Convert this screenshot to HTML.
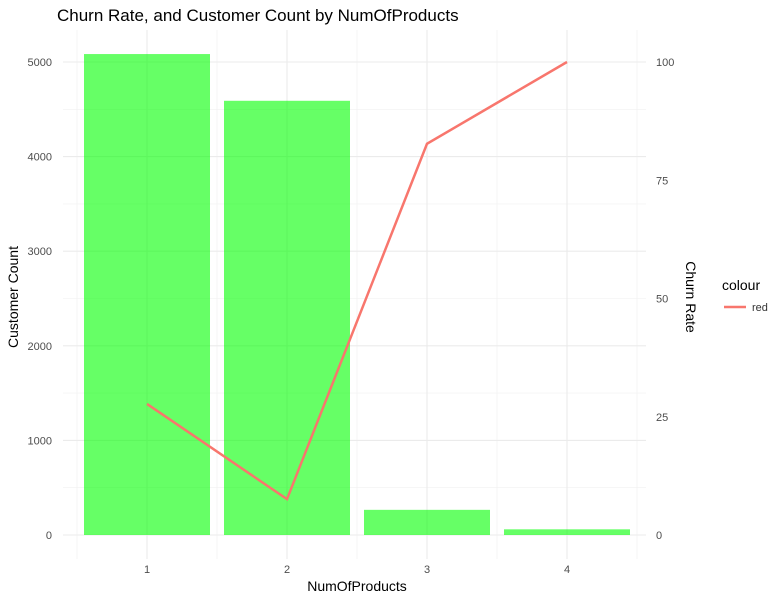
<!DOCTYPE html>
<html><head><meta charset="utf-8"><style>
body{margin:0;background:#fff;font-family:"Liberation Sans",Arial,sans-serif}
</style></head><body>
<svg id="c" width="784" height="601" xmlns="http://www.w3.org/2000/svg">
<rect width="784" height="601" fill="#fff"/>
<text x="57" y="21" font-size="17" fill="#000">Churn Rate, and Customer Count by NumOfProducts</text>
<g id="grid"></g><g id="bars"></g><g id="line"></g><g id="axes"></g>
<text transform="translate(18,297) rotate(-90)" text-anchor="middle" font-size="14">Customer Count</text>
<text transform="translate(686,297) rotate(90)" text-anchor="middle" font-size="14">Churn Rate</text>
<text x="357" y="591" text-anchor="middle" font-size="14">NumOfProducts</text>
<g>
<text x="722" y="290" font-size="14">colour</text>
<line x1="724" y1="307" x2="746" y2="307" stroke="#F8766D" stroke-width="2.5"/>
<text x="752" y="311" font-size="11" fill="#333">red</text>
</g>
</svg>
<script>
const categories=["1","2","3","4"];
const customerCounts=[5084,4590,266,60];
const churnRates=[27.71,7.58,82.71,100];
const leftTicks=[0,1000,2000,3000,4000,5000];
const rightTicks=[0,25,50,75,100];
const NS="http://www.w3.org/2000/svg";
const scaleFactor=50;
function xS(i){return 147+(i)*140;}
function yS(v){return 535-v*0.0946;}
function mk(p,t,a){const e=document.createElementNS(NS,t);for(const k in a)e.setAttribute(k,a[k]);document.getElementById(p).appendChild(e);return e;}
const L=63,R=646,T=30,B=559;
for(let v=500;v<5338;v+=1000){const g=mk('grid','line',{x1:L,x2:R,y1:yS(v),y2:yS(v),stroke:'#f0f0f0','stroke-width':0.6});
}
for(let i=0;i<=categories.length;i++){const g=mk('grid','line',{x1:xS(i)-70,x2:xS(i)-70,y1:T,y2:B,stroke:'#f0f0f0','stroke-width':0.6});
}
leftTicks.forEach(v=>{const g=mk('grid','line',{x1:L,x2:R,y1:yS(v),y2:yS(v),stroke:'#ebebeb','stroke-width':1.1});

const t=mk('axes','text',{x:52,y:yS(v)+4,'text-anchor':'end','font-size':11,fill:'#4d4d4d'});t.textContent=v;
});
rightTicks.forEach(v=>{const t=mk('axes','text',{x:656,y:yS(v*scaleFactor)+4,'font-size':11,fill:'#4d4d4d'});t.textContent=v;
});
categories.forEach((c,i)=>{const g=mk('grid','line',{x1:xS(i),x2:xS(i),y1:T,y2:B,stroke:'#ebebeb','stroke-width':1.1});

const t=mk('axes','text',{x:xS(i),y:573,'text-anchor':'middle','font-size':11,fill:'#4d4d4d'});t.textContent=c;

const b=mk('bars','rect',{x:xS(i)-63,width:126,y:yS(customerCounts[i]),height:yS(0)-yS(customerCounts[i]),fill:'#00FF00','fill-opacity':0.6});
});
const pts=churnRates.map((r,i)=>xS(i)+','+yS(r*scaleFactor)).join(' ');
const pl=mk('line','polyline',{points:pts,fill:'none',stroke:'#F8766D','stroke-width':2.5});

</script>
</body></html>
